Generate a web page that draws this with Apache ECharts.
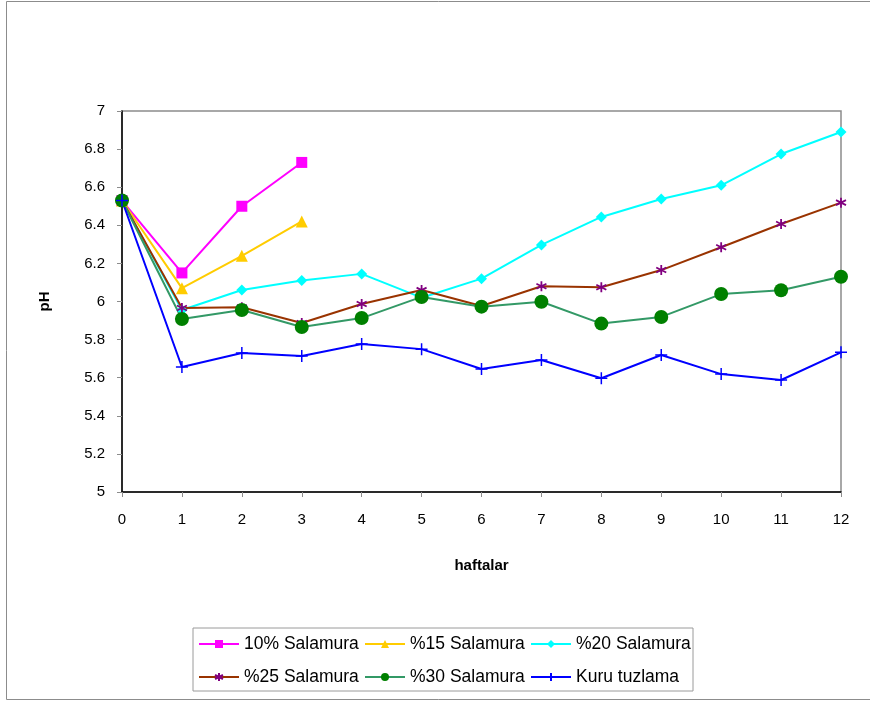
<!DOCTYPE html>
<html>
<head>
<meta charset="utf-8">
<script src="https://cdn.jsdelivr.net/npm/echarts@6/dist/echarts.min.js"></script>
<style>
html,body{margin:0;padding:0;background:#fff;}
#c{width:870px;height:702px;}
</style>
</head>
<body>
<div id="c"></div>
<script>
const weeks = [0,1,2,3,4,5,6,7,8,9,10,11,12];
const seriesNames = ['10% Salamura','%15 Salamura','%20 Salamura','%25 Salamura','%30 Salamura','Kuru tuzlama'];
const s10 = [6.53, 6.15, 6.50, 6.73];
const s15 = [6.53, 6.07, 6.24, 6.42];
const s20 = [6.53, 5.955, 6.06, 6.11, 6.145, 6.02, 6.12, 6.297, 6.444, 6.538, 6.61, 6.774, 6.89];
const s25 = [6.53, 5.966, 5.97, 5.887, 5.987, 6.06, 5.976, 6.08, 6.075, 6.165, 6.285, 6.407, 6.519];
const s30 = [6.53, 5.908, 5.955, 5.866, 5.913, 6.024, 5.973, 5.999, 5.884, 5.919, 6.039, 6.059, 6.13];
const kuru = [6.53, 5.656, 5.73, 5.714, 5.777, 5.75, 5.646, 5.693, 5.597, 5.719, 5.619, 5.588, 5.733];

function pairs(arr){ return arr.map((v,i)=>[weeks[i], v]); }

const chart = echarts.init(document.getElementById('c'), null, {renderer:'canvas'});
const font = 'Liberation Sans, Arial, sans-serif';
const asterisk = 'path://M0,-5L0,5M-4.33,-2.5L4.33,2.5M-4.33,2.5L4.33,-2.5';
const plus = 'path://M-5,0L5,0M0,-5L0,5';

chart.setOption({
  backgroundColor:'#fff',
  animation:false,
  graphic:[{type:'rect', shape:{x:6.5,y:1.5,width:880,height:698}, style:{fill:'none', stroke:'#8c8c8c', lineWidth:1}, silent:true}],
  grid:{left:122, right:29, top:111, bottom:210, show:true, borderColor:'#8c8c8c', borderWidth:1.5, backgroundColor:'transparent'},
  xAxis:{
    type:'value', min:0, max:12, interval:1,
    name:'haftalar', nameLocation:'middle', nameGap:66,
    nameTextStyle:{fontFamily:font, fontSize:15, fontWeight:'bold', color:'#000'},
    axisLine:{show:true, lineStyle:{color:'#000', width:1.5}},
    axisTick:{show:true, inside:false, length:5, lineStyle:{color:'#8c8c8c'}},
    axisLabel:{fontFamily:font, fontSize:15, color:'#000', margin:20},
    splitLine:{show:false}
  },
  yAxis:{
    type:'value', min:5, max:7, interval:0.2,
    name:'pH', nameLocation:'middle', nameGap:70, nameRotate:90,
    nameTextStyle:{fontFamily:font, fontSize:15, fontWeight:'bold', color:'#000'},
    axisLine:{show:true, lineStyle:{color:'#000', width:1.5}},
    axisTick:{show:true, inside:false, length:5, lineStyle:{color:'#8c8c8c'}},
    axisLabel:{fontFamily:font, fontSize:15, color:'#000', margin:17, formatter:v=>String(Math.round(v*10)/10)},
    splitLine:{show:false}
  },
  legend:{
    left:193, top:628,
    width:530,
    padding:[2,2,0,5],
    itemGap:5,
    itemWidth:40, itemHeight:10,
    borderColor:'#9a9a9a', borderWidth:1,
    textStyle:{fontFamily:font, fontSize:17.5, color:'#000', width:115, lineHeight:28},
    data:seriesNames
  },
  series:[
    {name:seriesNames[0], type:'line', data:pairs(s10), symbol:'rect', symbolSize:11,
      lineStyle:{color:'#FF00FF', width:2}, itemStyle:{color:'#FF00FF'}},
    {name:seriesNames[1], type:'line', data:pairs(s15), symbol:'triangle', symbolSize:12,
      lineStyle:{color:'#FFCC00', width:2}, itemStyle:{color:'#FFCC00'}},
    {name:seriesNames[2], type:'line', data:pairs(s20), symbol:'diamond', symbolSize:11,
      lineStyle:{color:'#00FFFF', width:2}, itemStyle:{color:'#00FFFF'}},
    {name:seriesNames[3], type:'line', data:pairs(s25), symbol:asterisk, symbolSize:10,
      lineStyle:{color:'#993300', width:2}, itemStyle:{color:'#800080', borderColor:'#800080', borderWidth:1.8}},
    {name:seriesNames[4], type:'line', data:pairs(s30), symbol:'circle', symbolSize:14,
      lineStyle:{color:'#339966', width:2}, itemStyle:{color:'#008000'}},
    {name:seriesNames[5], type:'line', data:pairs(kuru), symbol:plus, symbolSize:12,
      lineStyle:{color:'#0000FF', width:2}, itemStyle:{color:'#0000FF', borderColor:'#0000FF', borderWidth:1.5}}
  ]
});
</script>
</body>
</html>
